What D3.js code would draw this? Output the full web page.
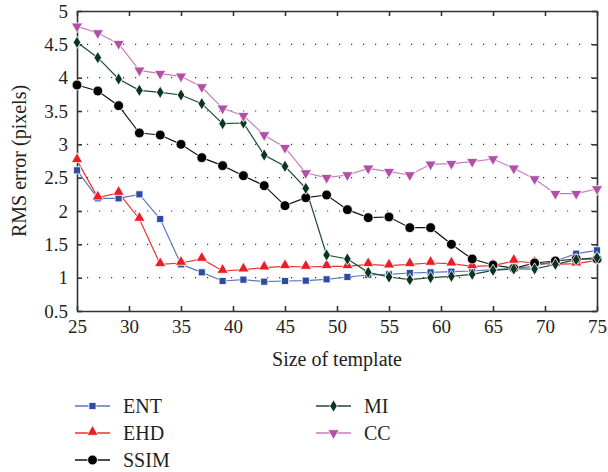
<!DOCTYPE html>
<html>
<head>
<meta charset="utf-8">
<script src="https://cdn.jsdelivr.net/npm/d3@7/dist/d3.min.js"></script>
<style>
body { margin: 0; background: #fff; }
.grid line { stroke: #333; stroke-width: 1.2; stroke-dasharray: 1.2,10.8; }
</style>
</head>
<body>
<script>
//template sizes on the x axis
var sizes = [25, 27, 29, 31, 33, 35, 37, 39, 41, 43, 45, 47, 49, 51, 53, 55, 57, 59, 61, 63, 65, 67, 69, 71, 73, 75];

//RMS error of each method
var ent  = [2.61, 2.19, 2.19, 2.25, 1.88, 1.20, 1.08, 0.95, 0.97, 0.94, 0.95, 0.955, 0.975, 1.01, 1.04, 1.05, 1.07, 1.08, 1.09, 1.10, 1.12, 1.14, 1.17, 1.25, 1.36, 1.41];
var ehd  = [2.76, 2.20, 2.27, 1.88, 1.20, 1.22, 1.28, 1.10, 1.12, 1.15, 1.17, 1.16, 1.17, 1.17, 1.20, 1.18, 1.20, 1.22, 1.21, 1.17, 1.18, 1.25, 1.22, 1.20, 1.21, 1.26];
var ssim = [3.89, 3.80, 3.58, 3.17, 3.14, 3.00, 2.80, 2.68, 2.53, 2.38, 2.08, 2.20, 2.24, 2.02, 1.90, 1.91, 1.75, 1.75, 1.50, 1.28, 1.19, 1.14, 1.22, 1.25, 1.28, 1.28];
var mi   = [4.53, 4.30, 3.98, 3.81, 3.78, 3.74, 3.61, 3.31, 3.32, 2.84, 2.67, 2.34, 1.34, 1.28, 1.08, 1.01, 0.97, 1.00, 1.02, 1.05, 1.11, 1.13, 1.13, 1.20, 1.27, 1.30];
var cc   = [4.77, 4.67, 4.51, 4.11, 4.06, 4.02, 3.86, 3.54, 3.43, 3.14, 2.95, 2.57, 2.50, 2.54, 2.64, 2.59, 2.54, 2.70, 2.71, 2.74, 2.78, 2.64, 2.48, 2.26, 2.26, 2.33];

var seriesNames = ["ENT", "EHD", "SSIM", "MI", "CC"];
var xTicks = [25, 30, 35, 40, 45, 50, 55, 60, 65, 70, 75];
var yTicks = [0.5, 1, 1.5, 2, 2.5, 3, 3.5, 4, 4.5, 5];

var width = 608, height = 472;
var margin = {left: 77, right: 11, top: 11, bottom: 161};
var serif = "Liberation Serif";

var svg = d3.select("body").append("svg")
    .attr("width", width)
    .attr("height", height);

var x = d3.scaleLinear().domain([25, 75]).range([margin.left, width - margin.right]);
var y = d3.scaleLinear().domain([0.5, 5]).range([height - margin.bottom, margin.top]);

//style for each method: line colour, marker colour, marker shape
var styles = {
    ENT:  {line: "#5a78c0", fill: "#2d4ca2", shape: d3.symbolSquare, size: 50, data: ent},
    EHD:  {line: "#ee3030", fill: "#ee1c24", shape: d3.symbolTriangle, size: 56, data: ehd},
    SSIM: {line: "#111", fill: "#000", shape: d3.symbolCircle, size: 76, data: ssim},
    MI:   {line: "#1d4a33", fill: "#0b3522", shape: "diamond", size: 0, data: mi},
    CC:   {line: "#c77dbd", fill: "#b24fa6", shape: "down", size: 56, data: cc}
};

//dotted horizontal grid
svg.append("g").attr("class", "grid")
    .selectAll("line")
    .data(yTicks.filter(function(d){ return d > 0.5 && d < 5; }))
    .enter().append("line")
    .attr("x1", x(25) + 10).attr("x2", x(75) - 4)
    .attr("y1", function(d){ return y(d); })
    .attr("y2", function(d){ return y(d); });

//axes with inward ticks
var fmt = function(d){ return String(d); };
var axBottom = svg.append("g")
    .attr("transform", "translate(0," + y(0.5) + ")")
    .call(d3.axisBottom(x).tickValues(xTicks).tickSizeInner(-5).tickSizeOuter(0).tickPadding(9).tickFormat(fmt));
var axTop = svg.append("g")
    .attr("transform", "translate(0," + y(5) + ")")
    .call(d3.axisTop(x).tickValues(xTicks).tickSizeInner(-5).tickSizeOuter(0).tickFormat(""));
var axLeft = svg.append("g")
    .attr("transform", "translate(" + x(25) + ",0)")
    .call(d3.axisLeft(y).tickValues(yTicks).tickSizeInner(-5).tickSizeOuter(0).tickPadding(9).tickFormat(fmt));
var axRight = svg.append("g")
    .attr("transform", "translate(" + x(75) + ",0)")
    .call(d3.axisRight(y).tickValues(yTicks).tickSizeInner(-5).tickSizeOuter(0).tickFormat(""));

[axBottom, axTop, axLeft, axRight].forEach(function(g){
    g.attr("font-family", serif).attr("font-size", 19);
    g.select(".domain").attr("stroke", "#333").attr("stroke-width", 1.6);
    g.selectAll(".tick line").attr("stroke", "#333").attr("stroke-width", 1.6);
    g.selectAll("text").attr("fill", "#231f20");
});

//axis titles
svg.append("text")
    .attr("x", 337).attr("y", 366)
    .attr("text-anchor", "middle")
    .attr("font-family", serif).attr("font-size", 20).attr("fill", "#231f20")
    .text("Size of template");

svg.append("text")
    .attr("transform", "translate(26," + y(2.75) + ") rotate(-90)")
    .attr("text-anchor", "middle")
    .attr("font-family", serif).attr("font-size", 20).attr("fill", "#231f20")
    .text("RMS error (pixels)");

function marker(g, st){
    if (st.shape === "diamond"){
        g.append("path").attr("d", "M0,-6.2L3.8,0L0,6.2L-3.8,0Z");
    } else if (st.shape === "down"){
        g.append("path").attr("d", d3.symbol().type(d3.symbolTriangle).size(st.size)())
            .attr("transform", "rotate(180)");
    } else if (st.shape === d3.symbolTriangle){
        g.append("path").attr("d", d3.symbol().type(st.shape).size(st.size)())
            .attr("transform", "translate(0,-1)");
    } else {
        g.append("path").attr("d", d3.symbol().type(st.shape).size(st.size)());
    }
    g.selectAll("path")
        .attr("fill", st.fill)
        .attr("stroke", "#fff")
        .attr("stroke-width", 0.8);
}

var line = d3.line()
    .x(function(d, i){ return x(sizes[i]); })
    .y(function(d){ return y(d); });

seriesNames.forEach(function(name){
    var st = styles[name];
    svg.append("path")
        .datum(st.data)
        .attr("fill", "none")
        .attr("stroke", st.line)
        .attr("stroke-width", 1.2)
        .attr("d", line);
});

seriesNames.forEach(function(name){
    var st = styles[name];
    svg.append("g").selectAll("g")
        .data(st.data)
        .enter().append("g")
        .attr("transform", function(d, i){ return "translate(" + x(sizes[i]) + "," + y(d) + ")"; })
        .each(function(){ marker(d3.select(this), st); });
});

//legend in two columns
var legendPos = {
    ENT: [75, 406], EHD: [75, 433], SSIM: [75, 460],
    MI: [316, 406], CC: [316, 433]
};
seriesNames.forEach(function(name){
    var st = styles[name], p = legendPos[name];
    var g = svg.append("g").attr("transform", "translate(" + p[0] + "," + p[1] + ")");
    g.append("line").attr("x1", 0).attr("x2", 35)
        .attr("stroke", st.line).attr("stroke-width", 1.4);
    marker(g.append("g").attr("transform", "translate(17.5,0)"), st);
    g.append("text").attr("x", 48).attr("y", 7)
        .attr("font-family", serif).attr("font-size", 20).attr("fill", "#231f20")
        .text(name);
});
</script>
</body>
</html>
